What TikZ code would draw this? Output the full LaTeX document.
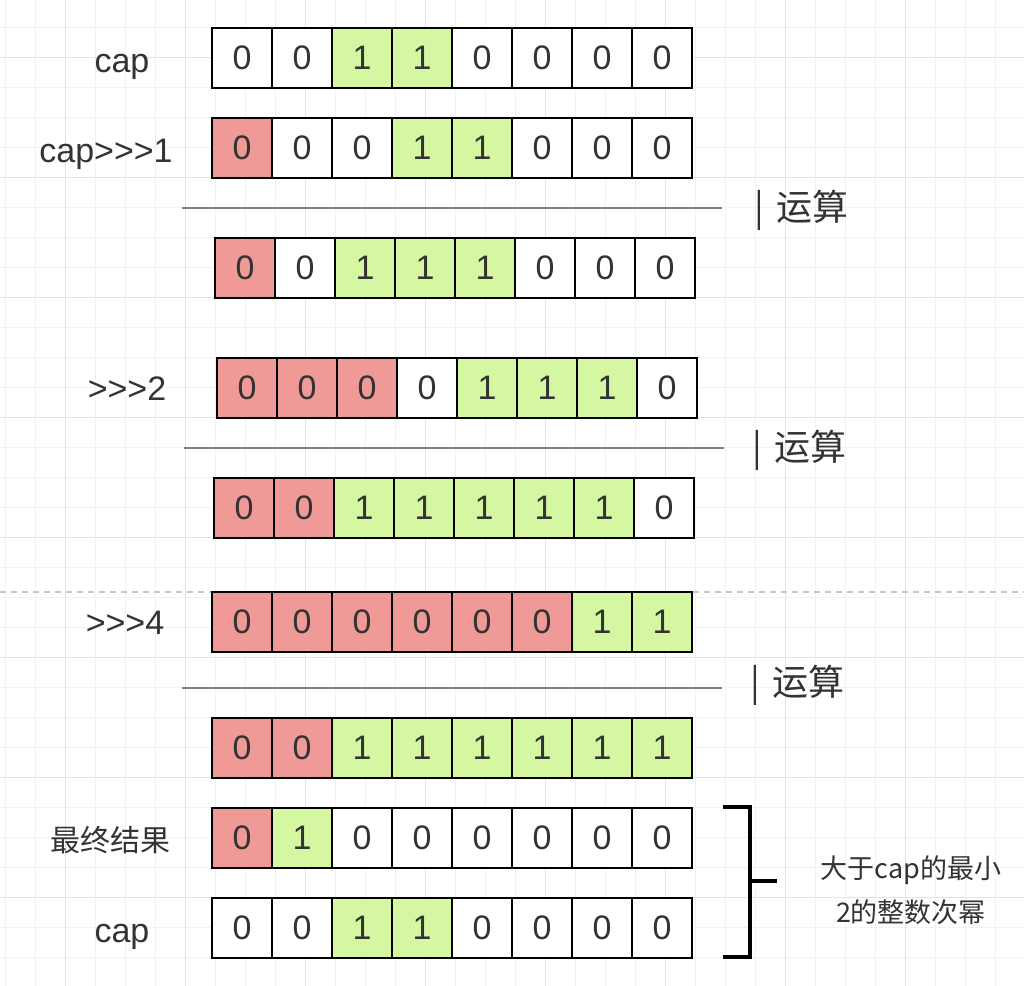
\documentclass[tikz,border=0pt]{standalone}
\usepackage{fontspec}
\setmainfont{Liberation Sans}
\newfontfamily\cjk{Noto Sans CJK SC}
\definecolor{cr}{HTML}{F09A98}
\definecolor{cg}{HTML}{D5F7A1}
\definecolor{cw}{HTML}{FFFFFF}
\definecolor{txt}{HTML}{333333}
\definecolor{gminor}{HTML}{F2F2F2}
\definecolor{gmajor}{HTML}{E3E3E3}
\definecolor{sep}{HTML}{808080}
\newcommand\bitrow[4]{%
  \foreach \f/\d [count=\i] in {#4} {
    \node[cell, fill=\f] (#1-\i) at ({#2+30+60*(\i-1)}, #3) {\d};
  }}
\begin{document}
\begin{tikzpicture}[x=0.5pt,y=-0.5pt,
  cell/.style={draw=black, line width=1pt, minimum width=30pt, minimum height=30pt, inner sep=0pt, text=txt, font=\fontsize{17}{20}\selectfont},
  lbl/.style={text=txt, inner sep=0pt, anchor=base, font=\fontsize{17}{20}\selectfont},
  cjklbl/.style={text=txt, inner sep=0pt, font=\cjk\fontsize{18}{20}\selectfont},
  sepline/.style={draw=sep, line width=1pt},
  bracket/.style={draw=black, line width=2pt}]
\useasboundingbox (0,0) rectangle (1024,986);
\fill[white] (0,0) rectangle (1024,986);
% grid
\foreach \x in {5,35,...,1024} \draw[gminor, line width=0.5pt] (\x,0) -- (\x,986);
\foreach \y in {27,57,...,986} \draw[gminor, line width=0.5pt] (0,\y) -- (1024,\y);
\foreach \x in {65,185,...,1024} \draw[gmajor, line width=0.5pt] (\x,0) -- (\x,986);
\foreach \y in {57,177,...,986} \draw[gmajor, line width=0.5pt] (0,\y) -- (1024,\y);
% dashed divider
\draw[draw=black!22, line width=1pt, dash pattern=on 3pt off 2.5pt] (0,592) -- (1024,592);
% rows
\bitrow{a}{212}{58}{cw/0,cw/0,cg/1,cg/1,cw/0,cw/0,cw/0,cw/0}
\bitrow{b}{212}{148}{cr/0,cw/0,cw/0,cg/1,cg/1,cw/0,cw/0,cw/0}
\bitrow{c}{215}{268}{cr/0,cw/0,cg/1,cg/1,cg/1,cw/0,cw/0,cw/0}
\bitrow{d}{217}{388}{cr/0,cr/0,cr/0,cw/0,cg/1,cg/1,cg/1,cw/0}
\bitrow{e}{214}{508}{cr/0,cr/0,cg/1,cg/1,cg/1,cg/1,cg/1,cw/0}
\bitrow{f}{212}{622}{cr/0,cr/0,cr/0,cr/0,cr/0,cr/0,cg/1,cg/1}
\bitrow{g}{212}{748}{cr/0,cr/0,cg/1,cg/1,cg/1,cg/1,cg/1,cg/1}
\bitrow{h}{212}{838}{cr/0,cg/1,cw/0,cw/0,cw/0,cw/0,cw/0,cw/0}
\bitrow{k}{212}{928}{cw/0,cw/0,cg/1,cg/1,cw/0,cw/0,cw/0,cw/0}
% row labels
\node[lbl] (la) at (122,72) {cap};
\node[lbl] (lb) at (106,162) {cap>{}>{}>1};
\node[lbl] (ld) at (127,400) {>{}>{}>2};
\node[lbl] (lf) at (125,634) {>{}>{}>4};
\node[text=txt, inner sep=0pt, font=\cjk\fontsize{15}{18}\selectfont] (lh) at (110,840) {最终结果};
\node[lbl] (lk) at (122,942) {cap};
% separators
\draw[sepline] (182,208) -- (722,208);
\draw[sepline] (184,448) -- (724,448);
\draw[sepline] (182,688) -- (722,688);
\node[cjklbl, anchor=west] (o1) at (754,210) {|\kern6pt运算};
\node[cjklbl, anchor=west] (o2) at (752,450) {|\kern6pt运算};
\node[cjklbl, anchor=west] (o3) at (750,685) {|\kern6pt运算};
% bracket
\coordinate (bt) at (723,807);
\coordinate (bb) at (723,957);
\coordinate (bm) at (750,881);
\coordinate (be) at (777,881);
\draw[bracket] (bt) -- (750,807) -- (750,957) -- (bb);
\draw[bracket] (bm) -- (be);
\node[text=txt, inner sep=0pt, align=center, font=\cjk\fontsize{13.5}{22}\selectfont] (note) at (911,890) {大于cap的最小\\2的整数次幂};
\end{tikzpicture}
\end{document}
